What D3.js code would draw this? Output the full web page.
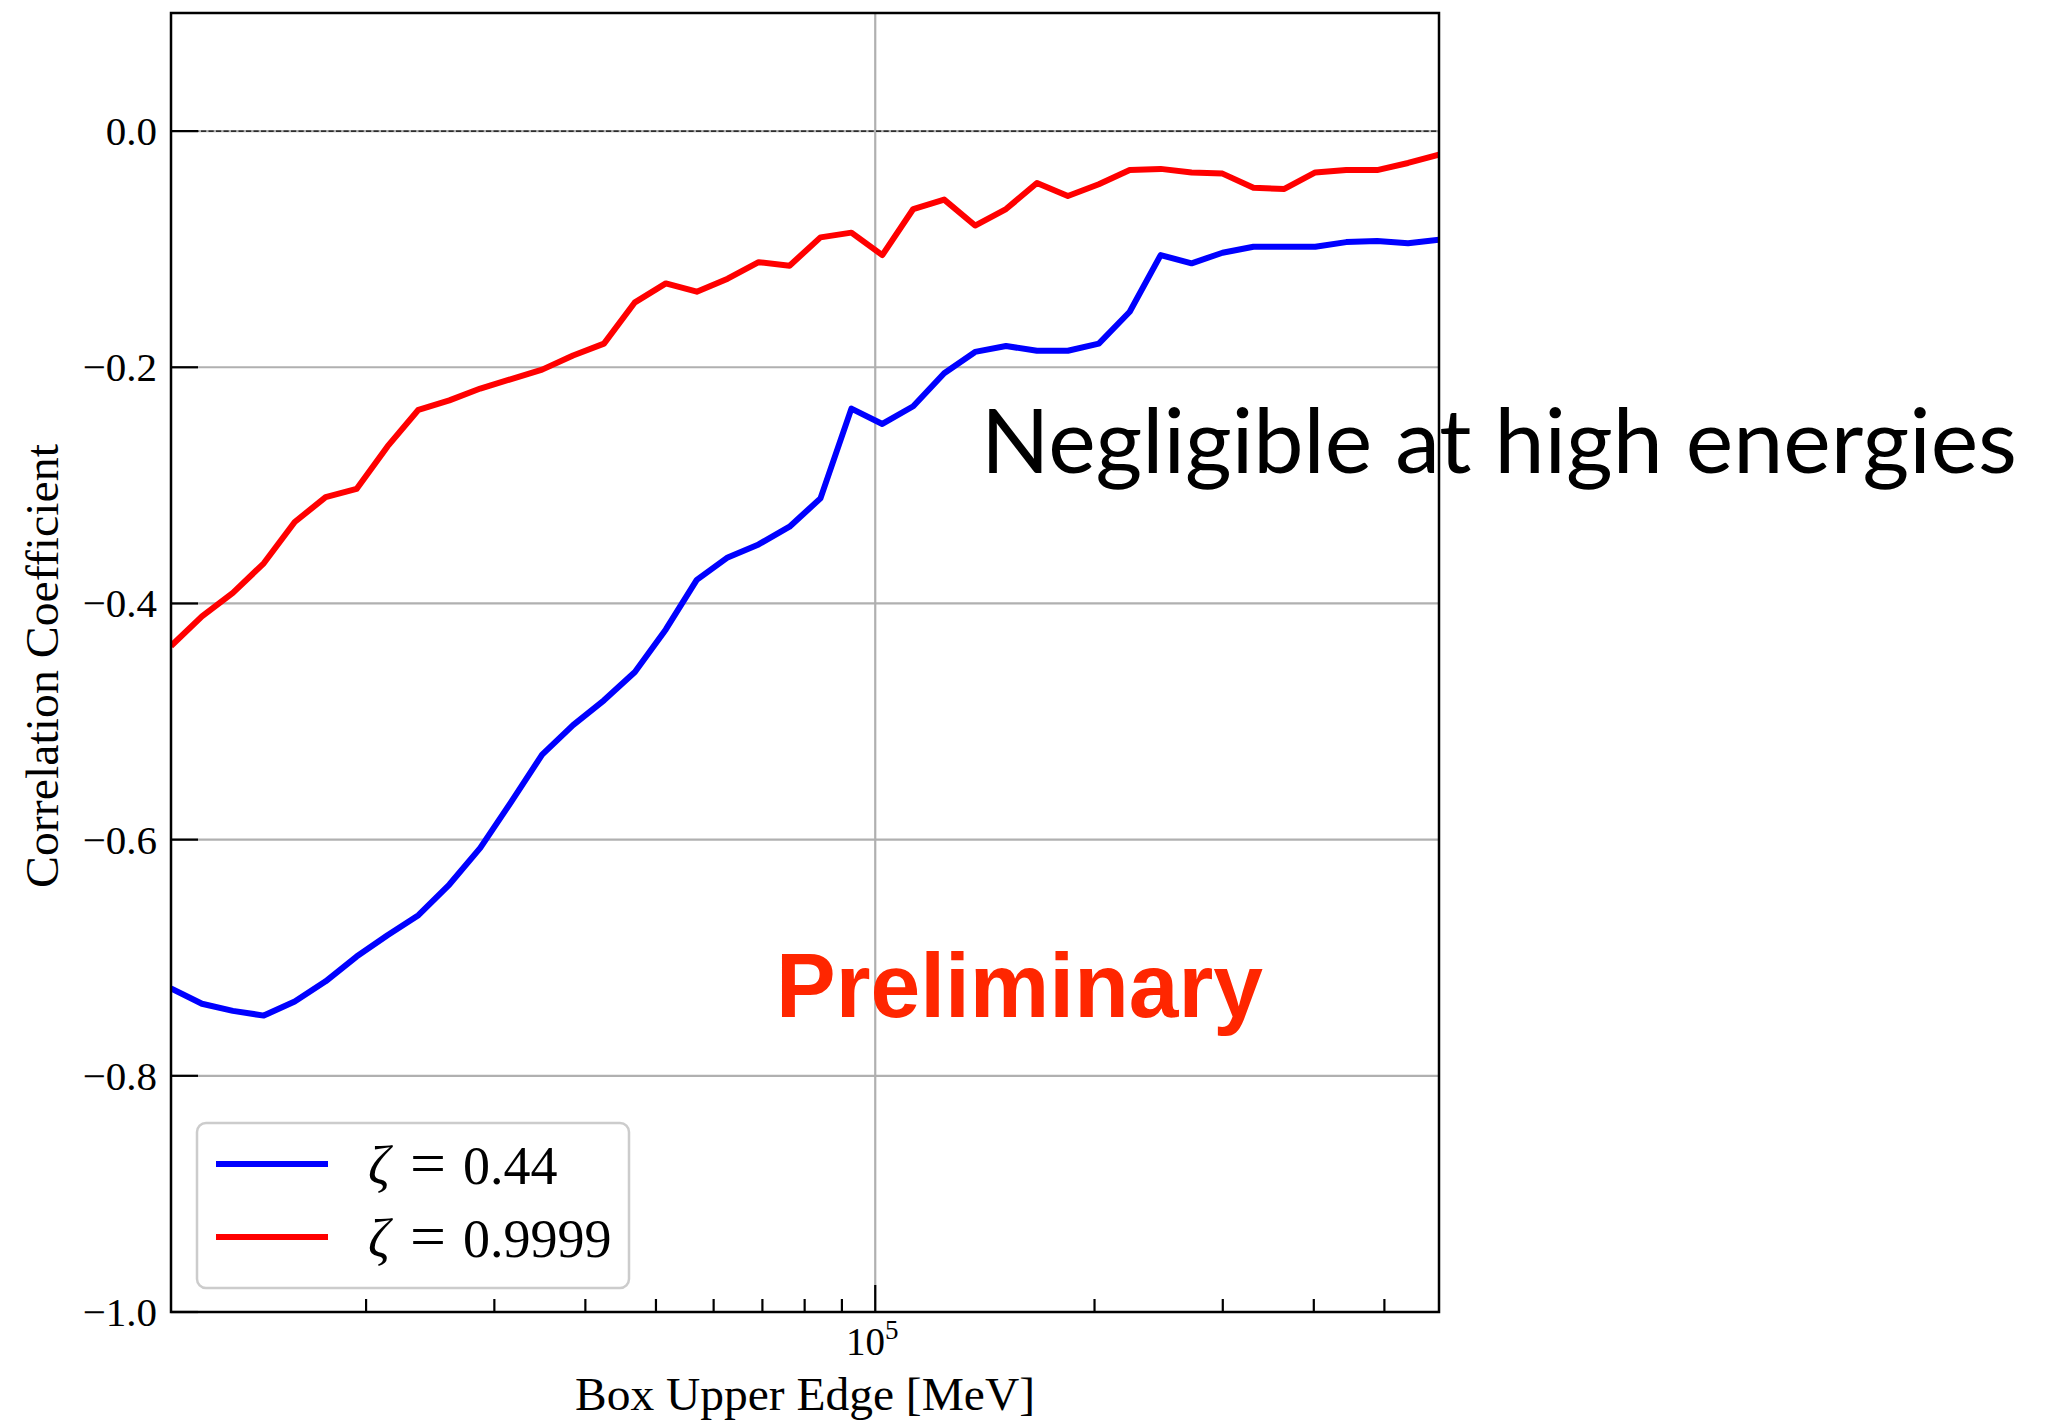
<!DOCTYPE html>
<html>
<head>
<meta charset="utf-8">
<script src="https://cdn.jsdelivr.net/npm/d3@7"></script>
<style>
  html, body { margin: 0; padding: 0; background: #fff; }
  svg { display: block; }
</style>
</head>
<body>
<svg id="chart" width="2047" height="1421"></svg>
<script>
// ---- data ----
const energiesMeV = [10795, 11904, 13126, 14474, 15961, 17600, 19408, 21401, 23599, 26022,
  28695, 31642, 34891, 38474, 42425, 46782, 51586, 56884, 62725, 69167,
  76270, 84103, 92740, 102264, 112766, 124347, 137117, 151198, 166726, 183848,
  202728, 223548, 246505, 271820, 299735, 330517, 364460, 401889, 443162, 488673,
  538858, 594197];
const corrZeta044 = [-0.726, -0.739, -0.745, -0.749, -0.737, -0.720, -0.699, -0.681, -0.664, -0.638,
  -0.607, -0.568, -0.528, -0.503, -0.482, -0.458, -0.422, -0.380, -0.361, -0.350,
  -0.335, -0.311, -0.235, -0.248, -0.233, -0.205, -0.187, -0.182, -0.186, -0.186,
  -0.180, -0.153, -0.105, -0.112, -0.103, -0.098, -0.098, -0.098, -0.094, -0.093,
  -0.095, -0.092];
const corrZeta09999 = [-0.436, -0.411, -0.391, -0.366, -0.331, -0.310, -0.303, -0.267, -0.236, -0.228,
  -0.218, -0.210, -0.202, -0.190, -0.180, -0.145, -0.129, -0.136, -0.125, -0.111,
  -0.114, -0.090, -0.086, -0.105, -0.066, -0.058, -0.080, -0.066, -0.044, -0.055,
  -0.045, -0.033, -0.032, -0.035, -0.036, -0.048, -0.049, -0.035, -0.033, -0.033,
  -0.027, -0.020];
const seriesNames = ["0.44", "0.9999"];
const seriesColors = ["#0000ff", "#ff0000"];
const yTickValues = [0.0, -0.2, -0.4, -0.6, -0.8, -1.0];
const yDomain = [-1.0, 0.1];
const xLabel = "Box Upper Edge [MeV]";
const yLabel = "Correlation Coefficient";
const annotationText = "Negligible at high energies";
const watermarkText = "Preliminary";

// ---- layout ----
const L = 171, R = 1439, T = 13, B = 1312;
const svg = d3.select("#chart");
const x = d3.scaleLog().domain([energiesMeV[0], energiesMeV[energiesMeV.length - 1]]).range([L, R]);
const y = d3.scaleLinear().domain(yDomain).range([B, T]);

const serif = "'Liberation Serif', 'Times New Roman', serif";

svg.append("defs").append("clipPath").attr("id", "plotclip")
  .append("rect").attr("x", L).attr("y", T).attr("width", R - L).attr("height", B - T);

// grid
const xAllTicks = x.ticks();
const isMajor = v => Math.abs(Math.log10(v) - Math.round(Math.log10(v))) < 1e-9;
const xMajor = xAllTicks.filter(isMajor);
const xMinor = xAllTicks.filter(v => !isMajor(v));

const grid = svg.append("g");
grid.selectAll("line.gy").data(yTickValues).join("line")
  .attr("x1", L).attr("x2", R).attr("y1", d => y(d)).attr("y2", d => y(d))
  .attr("stroke", "#b0b0b0").attr("stroke-width", 2.2);
grid.selectAll("line.gx").data(xMajor).join("line")
  .attr("x1", d => x(d)).attr("x2", d => x(d)).attr("y1", T).attr("y2", B)
  .attr("stroke", "#b0b0b0").attr("stroke-width", 2.2);

// zero dashed line
svg.append("line").attr("x1", L).attr("x2", R).attr("y1", y(0)).attr("y2", y(0))
  .attr("stroke", "#000").attr("stroke-width", 1.4).attr("stroke-dasharray", "5.2,2.3");

// watermark
svg.append("text").attr("x", 776).attr("y", 1017)
  .attr("font-family", "'Liberation Sans', Arial, sans-serif").attr("font-weight", "bold")
  .attr("font-size", 90).attr("fill", "#ff2600")
  .attr("textLength", 487).attr("lengthAdjust", "spacingAndGlyphs")
  .text(watermarkText);

// lines
const lineGen = d3.line().x((d, i) => x(energiesMeV[i])).y(d => y(d));
const plotG = svg.append("g").attr("clip-path", "url(#plotclip)");
[corrZeta044, corrZeta09999].forEach((s, k) => {
  plotG.append("path").datum(s).attr("d", lineGen)
    .attr("fill", "none").attr("stroke", seriesColors[k]).attr("stroke-width", 6)
    .attr("stroke-linejoin", "round").attr("stroke-linecap", "butt");
});

// annotation text
svg.append("text").attr("x", 981).attr("y", 473)
  .attr("font-family", "Lato, 'Open Sans', sans-serif").attr("font-weight", 400)
  .attr("font-size", 90).attr("fill", "#000")
  .attr("textLength", 1036).attr("lengthAdjust", "spacingAndGlyphs")
  .text(annotationText);

// spines
svg.append("rect").attr("x", L).attr("y", T).attr("width", R - L).attr("height", B - T)
  .attr("fill", "none").attr("stroke", "#000").attr("stroke-width", 2.5);

// ticks
const tk = svg.append("g").attr("stroke", "#000").attr("stroke-width", 2.2);
tk.selectAll("line.yt").data(yTickValues).join("line")
  .attr("x1", L).attr("x2", L + 27).attr("y1", d => y(d)).attr("y2", d => y(d));
tk.selectAll("line.xM").data(xMajor).join("line")
  .attr("x1", d => x(d)).attr("x2", d => x(d)).attr("y1", B).attr("y2", B - 27);
tk.selectAll("line.xm").data(xMinor).join("line")
  .attr("x1", d => x(d)).attr("x2", d => x(d)).attr("y1", B).attr("y2", B - 13);

// y tick labels
svg.append("g").selectAll("text").data(yTickValues).join("text")
  .attr("x", 157).attr("y", d => y(d) + 14)
  .attr("text-anchor", "end").attr("font-family", serif).attr("font-size", 41)
  .text(d => (d < 0 ? "\u2212" : "") + Math.abs(d).toFixed(1));

// x tick labels (10^n)
const xl = svg.append("g").selectAll("text").data(xMajor).join("text")
  .attr("x", d => x(d) - 3).attr("y", 1355)
  .attr("text-anchor", "middle").attr("font-family", serif).attr("font-size", 39);
xl.append("tspan").text("10");
xl.append("tspan").attr("font-size", 27).attr("dy", -16).text(d => Math.round(Math.log10(d)));

// axis labels
svg.append("text").attr("x", (L + R) / 2).attr("y", 1410)
  .attr("text-anchor", "middle").attr("font-family", serif).attr("font-size", 47)
  .attr("textLength", 460).attr("lengthAdjust", "spacingAndGlyphs")
  .text(xLabel);
svg.append("text").attr("transform", "translate(58,666) rotate(-90)")
  .attr("text-anchor", "middle").attr("font-family", serif).attr("font-size", 47)
  .attr("textLength", 444).attr("lengthAdjust", "spacingAndGlyphs")
  .text(yLabel);

// legend
const lg = svg.append("g");
lg.append("rect").attr("x", 197).attr("y", 1123).attr("width", 432).attr("height", 165)
  .attr("rx", 9).attr("fill", "#fff").attr("fill-opacity", 0.8)
  .attr("stroke", "#cccccc").attr("stroke-width", 2.5);
const legRows = [1164, 1237];
seriesNames.forEach((name, k) => {
  lg.append("line").attr("x1", 216).attr("x2", 328).attr("y1", legRows[k]).attr("y2", legRows[k])
    .attr("stroke", seriesColors[k]).attr("stroke-width", 6);
  const t = lg.append("text").attr("y", legRows[k] + 20)
    .attr("font-family", serif).attr("font-size", 54).attr("fill", "#000");
  t.append("tspan").attr("x", 368).attr("font-style", "italic").text("\u03B6");
  t.append("tspan").attr("x", 410).attr("font-size", 62).attr("textLength", 36)
    .attr("lengthAdjust", "spacingAndGlyphs").text("=");
  t.append("tspan").attr("x", 463).text(name);
});
</script>
</body>
</html>
